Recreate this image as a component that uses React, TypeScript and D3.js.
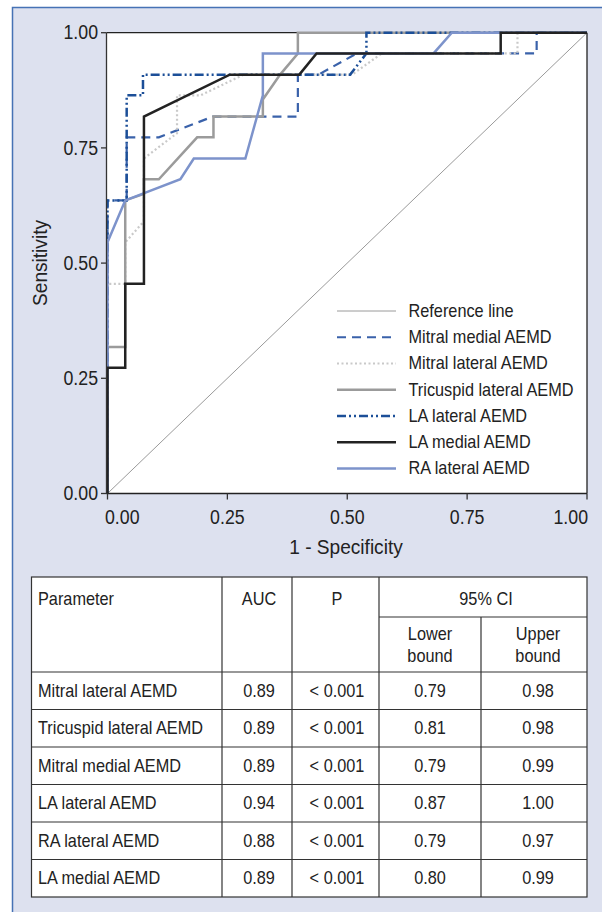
import React from "react";
import * as d3 from "d3";

// ROC points as [1 - specificity, sensitivity]
const referenceLine: [number, number][] = [[0, 0], [1, 1]];
const mitralMedial: [number, number][] = [
  [0, 0], [0, 0.636], [0.04, 0.636], [0.04, 0.773], [0.107, 0.773], [0.22, 0.818],
  [0.397, 0.818], [0.397, 0.909], [0.44, 0.909], [0.52, 0.955], [0.895, 0.955], [0.895, 1], [1, 1],
];
const mitralLateral: [number, number][] = [
  [0, 0], [0, 0.455], [0.037, 0.455], [0.037, 0.545], [0.076, 0.591], [0.076, 0.727],
  [0.145, 0.782], [0.145, 0.864], [0.194, 0.864], [0.284, 0.909], [0.51, 0.909],
  [0.572, 0.955], [0.855, 0.955], [0.855, 1], [1, 1],
];
const tricuspidLateral: [number, number][] = [
  [0, 0], [0, 0.318], [0.037, 0.318], [0.037, 0.636], [0.076, 0.65], [0.076, 0.682],
  [0.107, 0.682], [0.187, 0.773], [0.221, 0.773], [0.221, 0.818], [0.324, 0.818],
  [0.324, 0.855], [0.36, 0.909], [0.397, 0.955], [0.397, 1], [1, 1],
];
const laLateral: [number, number][] = [
  [0, 0], [0, 0.636], [0.04, 0.636], [0.04, 0.864], [0.074, 0.864], [0.074, 0.909],
  [0.506, 0.909], [0.54, 0.955], [0.54, 1], [1, 1],
];
const laMedial: [number, number][] = [
  [0, 0], [0, 0.273], [0.037, 0.273], [0.037, 0.455], [0.076, 0.455], [0.076, 0.818],
  [0.255, 0.909], [0.4, 0.909], [0.436, 0.955], [0.82, 0.955], [0.82, 1], [1, 1],
];
const raLateral: [number, number][] = [
  [0, 0], [0, 0.545], [0.037, 0.636], [0.152, 0.682], [0.18, 0.727], [0.2875, 0.727],
  [0.324, 0.864], [0.324, 0.955], [0.68, 0.955], [0.718, 1], [1, 1],
];

const axisTicks = [0, 0.25, 0.5, 0.75, 1];

// table
const tableParams = [
  "Mitral lateral AEMD", "Tricuspid lateral AEMD", "Mitral medial AEMD",
  "LA lateral AEMD", "RA lateral AEMD", "LA medial AEMD",
];
const tableAuc = ["0.89", "0.89", "0.89", "0.94", "0.88", "0.89"];
const tableP = ["< 0.001", "< 0.001", "< 0.001", "< 0.001", "< 0.001", "< 0.001"];
const tableLower = ["0.79", "0.81", "0.79", "0.87", "0.79", "0.80"];
const tableUpper = ["0.98", "0.98", "0.99", "1.00", "0.97", "0.99"];

const FONT = "'Liberation Sans', Arial, sans-serif";
const SQUEEZE = 0.91; // the original uses a condensed face

const series = [
  { name: "Reference line", data: referenceLine, color: "#9a9a9a", width: 1, dash: "" },
  { name: "Mitral medial AEMD", data: mitralMedial, color: "#3a62aa", width: 2.2, dash: "9 6" },
  { name: "Mitral lateral AEMD", data: mitralLateral, color: "#c9c9c9", width: 2.2, dash: "2 2.5" },
  { name: "Tricuspid lateral AEMD", data: tricuspidLateral, color: "#9b9b9b", width: 2.5, dash: "" },
  { name: "LA lateral AEMD", data: laLateral, color: "#1c4f98", width: 2.5, dash: "9 3 2 3 2 3" },
  { name: "LA medial AEMD", data: laMedial, color: "#222222", width: 2.5, dash: "" },
  { name: "RA lateral AEMD", data: raLateral, color: "#7d93cb", width: 2.5, dash: "" },
];
// draw RA before LA medial so the black 0.95 step stays visible
const drawOrder = [0, 1, 2, 3, 4, 6, 5];

type TProps = {
  x: number;
  y: number;
  size: number;
  anchor?: "start" | "middle" | "end";
  rotate?: number;
  baseline?: string;
  children: React.ReactNode;
};

function T({ x, y, size, anchor = "start", rotate = 0, baseline, children }: TProps) {
  return (
    <text
      transform={`translate(${x},${y}) rotate(${rotate}) scale(${SQUEEZE},1)`}
      textAnchor={anchor}
      dominantBaseline={baseline}
      fontSize={size}
      fill="#222"
    >
      {children}
    </text>
  );
}

export default function App() {
  const x = d3.scaleLinear().domain([0, 1]).range([107.5, 587]);
  const y = d3.scaleLinear().domain([0, 1]).range([493.5, 32.7]);
  const line = d3
    .line<[number, number]>()
    .x((d) => x(d[0]))
    .y((d) => y(d[1]));

  const legendY = d3.scalePoint<string>().domain(series.map((s) => s.name)).range([311, 468.5]);

  // table geometry
  const cols = [31.5, 222, 292, 379, 481, 587];
  const colCenters = [0, 259, 337, 430, 538];
  const tableTop = 577;
  const headerBottom = 672;
  const subLine = 617;
  const tableBottom = 897;
  const rowY = d3.scaleBand<number>().domain(d3.range(tableParams.length)).range([headerBottom, tableBottom]);
  const fs = 17.9;

  return (
    <svg width={602} height={912} style={{ position: "absolute", left: 0, top: 0 }} fontFamily={FONT}>
      <rect x={12.5} y={7.5} width={600} height={920} fill="#dde1ef" stroke="#4672b5" strokeWidth={1.5} />

      {/* plot area */}
      <rect x={106.5} y={y(1)} width={587 - 106.5} height={y(0) - y(1)} fill="#fff" />
      <line x1={106.5} x2={587} y1={y(1)} y2={y(1)} stroke="#222" strokeWidth={1.3} />
      <line x1={587} x2={587} y1={y(1)} y2={y(0)} stroke="#222" strokeWidth={1.3} />

      {drawOrder.map((i) => {
        const s = series[i];
        return (
          <path
            key={s.name}
            d={line(s.data) || ""}
            fill="none"
            stroke={s.color}
            strokeWidth={s.width}
            strokeDasharray={s.dash || undefined}
          />
        );
      })}

      {/* axes */}
      <line x1={106.5} x2={106.5} y1={y(1)} y2={y(0)} stroke="#333" strokeWidth={1.3} />
      <line x1={106.5} x2={587} y1={y(0)} y2={y(0)} stroke="#222" strokeWidth={1.3} />
      {axisTicks.map((t) => (
        <g key={"y" + t}>
          <line x1={101} x2={106.5} y1={y(t)} y2={y(t)} stroke="#333" strokeWidth={1.3} />
          <T x={98} y={y(t)} size={19.5} anchor="end" baseline="central">
            {t.toFixed(2)}
          </T>
        </g>
      ))}
      {axisTicks.map((t, i) => (
        <g key={"x" + t}>
          <line x1={x(t)} x2={x(t)} y1={y(0)} y2={y(0) + 6} stroke="#333" strokeWidth={1.3} />
          <T
            x={i === 0 ? 105 : i === axisTicks.length - 1 ? 588 : x(t)}
            y={524}
            size={19.5}
            anchor={i === 0 ? "start" : i === axisTicks.length - 1 ? "end" : "middle"}
          >
            {t.toFixed(2)}
          </T>
        </g>
      ))}
      <T x={346} y={554} size={21} anchor="middle">
        1 - Specificity
      </T>
      <T x={47} y={263} size={21} anchor="middle" rotate={-90}>
        Sensitivity
      </T>

      {/* legend */}
      {series.map((s) => (
        <g key={"lg" + s.name}>
          <line
            x1={337}
            x2={396}
            y1={legendY(s.name)}
            y2={legendY(s.name)}
            stroke={s.color}
            strokeWidth={s.width}
            strokeDasharray={s.dash || undefined}
          />
          <T x={408.5} y={legendY(s.name) || 0} size={fs} baseline="central">
            {s.name}
          </T>
        </g>
      ))}

      {/* table */}
      <rect
        x={cols[0]}
        y={tableTop}
        width={cols[5] - cols[0]}
        height={tableBottom - tableTop}
        fill="#fff"
        stroke="#333"
        strokeWidth={1.2}
      />
      {cols.slice(1, 5).map((c, i) => (
        <line key={"c" + i} x1={c} x2={c} y1={i >= 3 ? subLine : tableTop} y2={tableBottom} stroke="#333" strokeWidth={1.2} />
      ))}
      <line x1={cols[3]} x2={cols[5]} y1={subLine} y2={subLine} stroke="#333" strokeWidth={1.2} />
      {d3.range(tableParams.length).map((i) => (
        <line key={"r" + i} x1={cols[0]} x2={cols[5]} y1={rowY(i)} y2={rowY(i)} stroke="#333" strokeWidth={1.2} />
      ))}
      <T x={38} y={599} size={fs} baseline="central">Parameter</T>
      <T x={colCenters[1]} y={599} size={fs} anchor="middle" baseline="central">AUC</T>
      <T x={colCenters[2]} y={599} size={fs} anchor="middle" baseline="central">P</T>
      <T x={486} y={599} size={fs} anchor="middle" baseline="central">95% CI</T>
      <T x={colCenters[3]} y={634} size={fs} anchor="middle" baseline="central">Lower</T>
      <T x={colCenters[3]} y={656} size={fs} anchor="middle" baseline="central">bound</T>
      <T x={colCenters[4]} y={634} size={fs} anchor="middle" baseline="central">Upper</T>
      <T x={colCenters[4]} y={656} size={fs} anchor="middle" baseline="central">bound</T>
      {tableParams.map((p, i) => {
        const cy = (rowY(i) || 0) + rowY.bandwidth() / 2;
        return (
          <g key={"row" + p}>
            <T x={38} y={cy} size={fs} baseline="central">{p}</T>
            <T x={colCenters[1]} y={cy} size={fs} anchor="middle" baseline="central">{tableAuc[i]}</T>
            <T x={colCenters[2]} y={cy} size={fs} anchor="middle" baseline="central">{tableP[i]}</T>
            <T x={colCenters[3]} y={cy} size={fs} anchor="middle" baseline="central">{tableLower[i]}</T>
            <T x={colCenters[4]} y={cy} size={fs} anchor="middle" baseline="central">{tableUpper[i]}</T>
          </g>
        );
      })}
    </svg>
  );
}
